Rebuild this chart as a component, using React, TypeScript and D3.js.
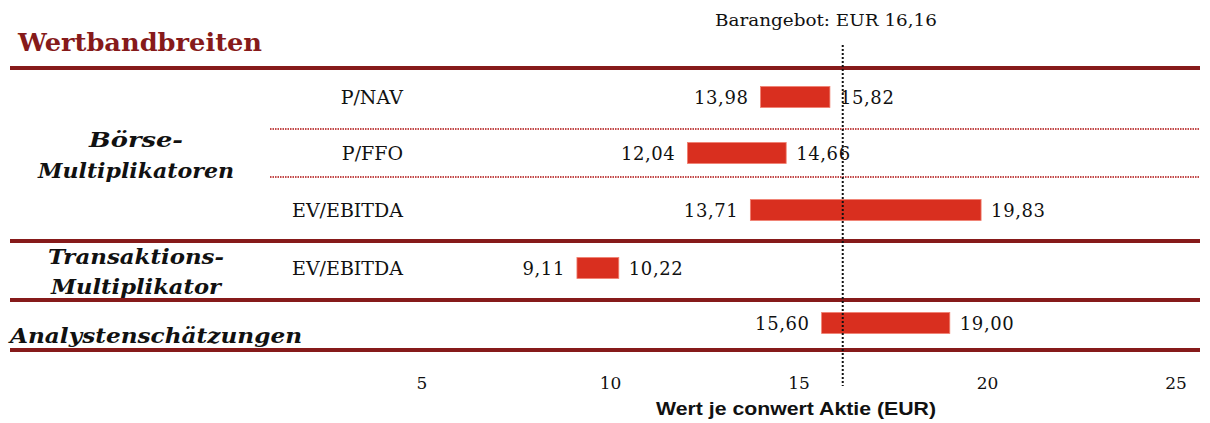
import React from "react";
import * as d3 from "d3";

const categories = ["P/NAV", "P/FFO", "EV/EBITDA", "EV/EBITDA", ""];
const lowValues = [13.98, 12.04, 13.71, 9.11, 15.6];
const highValues = [15.82, 14.66, 19.83, 10.22, 19.0];
const tickValues = [5, 10, 15, 20, 25];
const offerPrice = 16.16;
const offerLabel = "Barangebot: EUR 16,16";
const title = "Wertbandbreiten";
const axisTitle = "Wert je conwert Aktie (EUR)";

const DARK = "#861a1a";
const BAR = "#d92f1f";
const SERIF = "'DejaVu Serif', Georgia, serif";

const fmt = (v: number) => v.toFixed(2).replace(".", ",");

export default function App() {
  const W = 1210, H = 423;
  const x = d3.scaleLinear().domain([5, 25]).range([422, 1176]);
  const rowCenters = [97, 153, 210, 268, 323];
  const barH = 21;
  const thickLines = [68, 241, 300, 350];
  const dotLines = [129, 177];

  return (
    <svg width={W} height={H} style={{ position: "absolute", left: 0, top: 0, background: "#fff" }}>
      <text x={18} y={51} fontFamily={SERIF} fontWeight="bold" fontSize={24} fill={DARK} textLength={244} lengthAdjust="spacingAndGlyphs">{title}</text>
      <text x={826} y={26} textAnchor="middle" fontFamily={SERIF} fontSize={17} fill="#111" textLength={222} lengthAdjust="spacingAndGlyphs">{offerLabel}</text>

      {thickLines.map((y, i) => (
        <line key={"t" + i} x1={10} x2={1200} y1={y} y2={y} stroke={DARK} strokeWidth={4} />
      ))}
      {dotLines.map((y, i) => (
        <line key={"d" + i} x1={270} x2={1200} y1={y} y2={y} stroke="#c24848" strokeWidth={2} strokeDasharray="1.5 1" />
      ))}

      {categories.map((c, i) => c ? (
        <text key={"c" + i} x={403} y={rowCenters[i] + 7} textAnchor="end" fontFamily={SERIF} fontSize={19} fill="#111">{c}</text>
      ) : null)}

      <g fontFamily={SERIF} fontStyle="italic" fontWeight="bold" fontSize={20} fill="#111" textAnchor="middle">
        <text x={136} y={147} textLength={94} lengthAdjust="spacingAndGlyphs">Börse-</text>
        <text x={136} y={178} textLength={196} lengthAdjust="spacingAndGlyphs">Multiplikatoren</text>
        <text x={136} y={264} textLength={176} lengthAdjust="spacingAndGlyphs">Transaktions-</text>
        <text x={136} y={294} textLength={170} lengthAdjust="spacingAndGlyphs">Multiplikator</text>
        <text x={10} y={343} textAnchor="start" textLength={292} lengthAdjust="spacingAndGlyphs">Analystenschätzungen</text>
      </g>

      {lowValues.map((lo, i) => {
        const hi = highValues[i];
        const cy = rowCenters[i];
        return (
          <g key={"b" + i}>
            <rect x={x(lo)} y={cy - barH / 2} width={x(hi) - x(lo)} height={barH} fill={BAR} stroke="#f08070" strokeWidth={0.8} />
            <text x={x(lo) - 12} y={cy + 7} textAnchor="end" fontFamily={SERIF} fontSize={18} fill="#111" letterSpacing={0.6}>{fmt(lo)}</text>
            <text x={x(hi) + 10} y={cy + 7} textAnchor="start" fontFamily={SERIF} fontSize={18} fill="#111" letterSpacing={0.6}>{fmt(hi)}</text>
          </g>
        );
      })}

      <line x1={x(offerPrice)} x2={x(offerPrice)} y1={45} y2={386} stroke="#111" strokeWidth={2} strokeDasharray="2 2" />

      {tickValues.map((t) => (
        <text key={"k" + t} x={x(t)} y={389} textAnchor="middle" fontFamily={SERIF} fontSize={17} fill="#111">{t}</text>
      ))}
      <text x={796} y={415} textAnchor="middle" fontFamily="'Liberation Sans Narrow', 'Liberation Sans', Arial, sans-serif" fontWeight="bold" fontSize={18} fill="#111" textLength={280} lengthAdjust="spacingAndGlyphs">{axisTitle}</text>
    </svg>
  );
}
